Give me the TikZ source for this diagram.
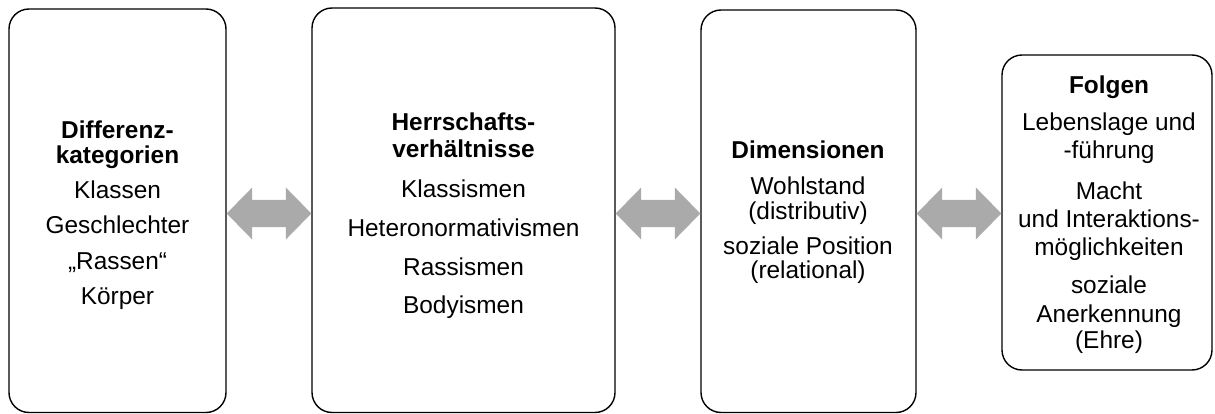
\documentclass[tikz,border=0pt]{standalone}
\usepackage{fontspec}
\setmainfont{Liberation Sans}
\usetikzlibrary{calc}
\definecolor{arrowgray}{RGB}{170,170,170}
\newcommand\dblarrow[2]{%
  \fill[arrowfill] let \p1=(#1), \p2=(#2) in
    (\x1,\y1) -- (\x1+25.5pt,\y1+26pt) -- (\x1+25.5pt,\y1+13.5pt)
    -- (\x2-25.5pt,\y1+13.5pt) -- (\x2-25.5pt,\y1+26pt) -- (\x2,\y1)
    -- (\x2-25.5pt,\y1-26pt) -- (\x2-25.5pt,\y1-13.5pt)
    -- (\x1+25.5pt,\y1-13.5pt) -- (\x1+25.5pt,\y1-26pt) -- cycle;}
\begin{document}
\begin{tikzpicture}[x=1pt,y=-1pt,
  box/.style={draw=black, line width=1.4pt, rounded corners=20pt, fill=white, inner sep=0pt},
  label/.style={anchor=base, align=center, inner sep=0pt, font=\fontsize{24.4}{25}\selectfont},
  arrowfill/.style={fill=arrowgray}]
\useasboundingbox (0,0) rectangle (1215,414);
\fill[white] (0,0) rectangle (1215,414);
\node[box, minimum width=217pt, minimum height=403.5pt] (b1) at (117.5,210.75) {};
\node[box, minimum width=303pt, minimum height=404.5pt] (b2) at (463.5,210.25) {};
\node[box, minimum width=215pt, minimum height=402.5pt] (b3) at (808.5,211.25) {};
\node[box, minimum width=210pt, minimum height=315pt] (b4) at (1107,212.5) {};
\coordinate (mid) at (0,213.5);
\dblarrow{b1.east |- mid}{b2.west |- mid}
\dblarrow{b2.east |- mid}{b3.west |- mid}
\dblarrow{b3.east |- mid}{b4.west |- mid}
% anchor=base of a multi-line node is the baseline of its last line
\node[label] (t1) at (117.5,304) {\textbf{Differenz-}\\[0pt]\textbf{kategorien}\\[10pt]Klassen\\[10pt]Geschlechter\\[11pt]„Rassen“\\[10pt]Körper};
\node[label] (t2) at (463.5,313.5) {\textbf{Herrschafts-}\\[2pt]\textbf{verhältnisse}\\[15.5pt]Klassismen\\[14pt]Heteronormativismen\\[13.5pt]Rassismen\\[13.5pt]Bodyismen};
\node[label] (t3) at (808,278.5) {\textbf{Dimensionen}\\[11pt]Wohlstand\\[-0.5pt](distributiv)\\[10.5pt]soziale Position\\[-1pt](relational)};
\node[label] (t4) at (1109,348) {\textbf{Folgen}\\[12pt]Lebenslage und\\[3pt]-führung\\[16pt]Macht\\[3pt]und Interaktions-\\[3pt]möglichkeiten\\[13pt]soziale\\[4pt]Anerkennung\\[1pt](Ehre)};
\end{tikzpicture}
\end{document}
